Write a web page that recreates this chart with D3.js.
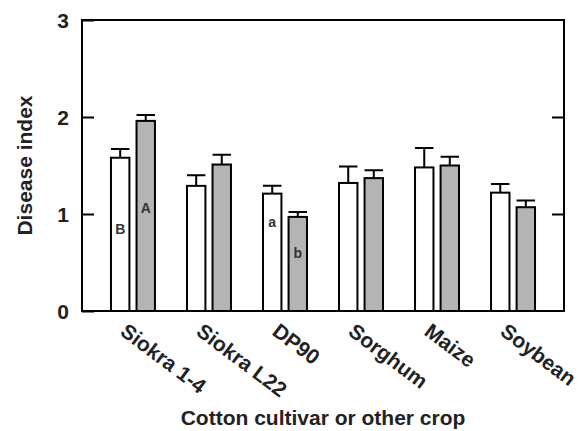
<!DOCTYPE html>
<html>
<head>
<meta charset="utf-8">
<title>Disease index</title>
<script src="https://cdnjs.cloudflare.com/ajax/libs/d3/7.8.5/d3.min.js"></script>
<style>
body { margin: 0; background: #fff; }
text { font-family: "Liberation Sans", Arial, sans-serif; font-weight: bold; fill: #222; }
.bar { stroke: #000; stroke-width: 2px; }
.err { stroke: #000; stroke-width: 2px; fill: none; }
.axis path { display: none; }
.axis line { stroke: #000; stroke-width: 2px; }
</style>
</head>
<body>
<div id="chart"></div>
<script>
var categories = ["Siokra 1-4", "Siokra L22", "DP90", "Sorghum", "Maize", "Soybean"];
var series = ["open", "grey"];
var openValues = [1.58, 1.29, 1.21, 1.32, 1.48, 1.22];
var openErrors = [0.09, 0.11, 0.08, 0.17, 0.20, 0.09];
var greyValues = [1.96, 1.51, 0.97, 1.37, 1.50, 1.07];
var greyErrors = [0.06, 0.10, 0.05, 0.08, 0.09, 0.07];
var yTicks = [0, 1, 2, 3];
// significance letters: category, series, text, height in disease-index units
var letters = [
  ["Siokra 1-4", "open", "B", 0.79],
  ["Siokra 1-4", "grey", "A", 1.01],
  ["DP90", "open", "a", 0.87],
  ["DP90", "grey", "b", 0.55]
];

var data = categories.map((c, i) => ({
  cat: c,
  bars: [
    {key: "open", value: openValues[i], err: openErrors[i]},
    {key: "grey", value: greyValues[i], err: greyErrors[i]}
  ]
}));

var pLeft = 82, pRight = 564, pTop = 20, pBottom = 311;

var svg = d3.select("#chart").append("svg")
  .attr("width", 579)
  .attr("height", 431);

var x0 = d3.scaleBand()
  .domain(categories)
  .range([pLeft, pRight])
  .paddingInner(0.395)
  .paddingOuter(0.368);

var x1 = d3.scaleBand()
  .domain(series)
  .range([0, x0.bandwidth()])
  .paddingInner(0.2);

var y = d3.scaleLinear()
  .domain([0, 3])
  .range([pBottom, pTop]);

var fill = {open: "#fff", grey: "#b4b4b4"};

// y axis, ticks pointing in
svg.append("g")
  .attr("class", "axis")
  .attr("transform", "translate(" + pLeft + ",0)")
  .call(d3.axisLeft(y).tickValues(yTicks).tickSize(-12).tickPadding(13).tickFormat(d3.format("d")))
  .selectAll("text")
    .style("font-size", "21px")
    .attr("dy", "0.36em");

svg.append("g")
  .attr("class", "axis")
  .attr("transform", "translate(" + pRight + ",0)")
  .call(d3.axisRight(y).tickValues([1, 2]).tickSize(-12).tickFormat(""));

// x axis labels only
var xAxis = svg.append("g")
  .attr("class", "axis")
  .attr("transform", "translate(0," + pBottom + ")")
  .call(d3.axisBottom(x0).tickSize(0));
xAxis.selectAll("line").remove();
xAxis.selectAll("text")
  .attr("x", 0)
  .attr("y", 0)
  .attr("dy", null)
  .style("font-size", "21px")
  .style("text-anchor", "start")
  .attr("transform", "translate(-14,23) rotate(37)");

var groups = svg.selectAll(".group")
  .data(data)
  .enter().append("g")
  .attr("class", "group")
  .attr("transform", d => "translate(" + x0(d.cat) + ",0)");

groups.selectAll(".bar")
  .data(d => d.bars)
  .enter().append("rect")
  .attr("class", "bar")
  .attr("x", d => x1(d.key) + 1)
  .attr("y", d => y(d.value))
  .attr("width", x1.bandwidth() - 2)
  .attr("height", d => y(0) - y(d.value))
  .attr("fill", d => fill[d.key]);

var cap = x1.bandwidth() - 2;
groups.selectAll(".err")
  .data(d => d.bars)
  .enter().append("path")
  .attr("class", "err")
  .attr("d", d => {
    var cx = x1(d.key) + x1.bandwidth() / 2;
    var yt = y(d.value + d.err);
    return "M" + cx + "," + y(d.value) + "V" + yt +
      "M" + (cx - cap / 2) + "," + yt + "H" + (cx + cap / 2);
  });

svg.selectAll(".letter")
  .data(letters)
  .enter().append("text")
  .attr("class", "letter")
  .attr("x", d => x0(d[0]) + x1(d[1]) + x1.bandwidth() / 2)
  .attr("y", d => y(d[3]))
  .attr("text-anchor", "middle")
  .style("font-size", "14px")
  .style("fill", "#333")
  .text(d => d[2]);

// frame
svg.append("rect")
  .attr("x", pLeft)
  .attr("y", pTop)
  .attr("width", pRight - pLeft)
  .attr("height", pBottom - pTop)
  .attr("fill", "none")
  .attr("stroke", "#000")
  .attr("stroke-width", 2);

svg.append("text")
  .attr("x", (pLeft + pRight) / 2)
  .attr("y", 425)
  .attr("text-anchor", "middle")
  .style("font-size", "21px")
  .text("Cotton cultivar or other crop");

svg.append("text")
  .attr("transform", "translate(32," + y(1.5) + ") rotate(-90)")
  .attr("text-anchor", "middle")
  .style("font-size", "21px")
  .text("Disease index");
</script>
</body>
</html>
